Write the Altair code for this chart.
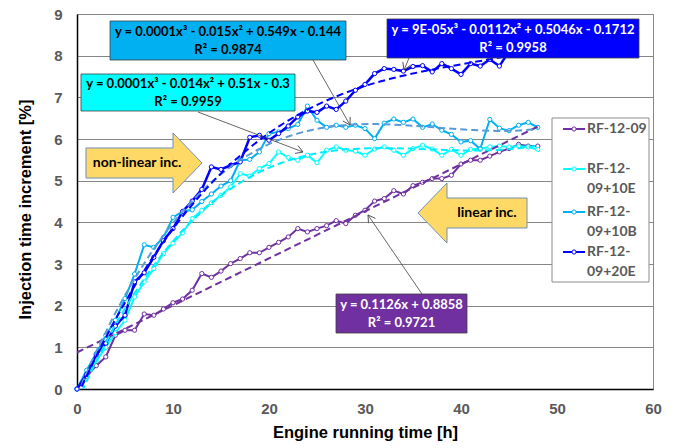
import altair as alt
import pandas as pd
import math

# ---------------- data ----------------
hours = list(range(49))
rf_12_09 = [0, 0.30, 0.56, 0.77, 1.29, 1.41, 1.41, 1.80, 1.77, 1.92, 2.07, 2.16, 2.37, 2.77, 2.68, 2.83,
            3.01, 3.13, 3.27, 3.27, 3.40, 3.52, 3.65, 3.85, 3.77, 3.85, 3.92, 4.04, 3.97, 4.17, 4.29, 4.51,
            4.57, 4.76, 4.68, 4.88, 4.96, 5.05, 5.05, 5.13, 5.40, 5.49, 5.49, 5.59, 5.69, 5.77, 5.87, 5.83, 5.83]
rf_10e = [0, 0.35, 0.68, 1.00, 1.35, 1.65, 2.21, 2.57, 2.89, 3.25, 3.50, 3.75, 4.09, 4.29, 4.47, 4.65,
          4.85, 5.17, 5.11, 5.29, 5.41, 5.69, 5.56, 5.49, 5.61, 5.43, 5.73, 5.81, 5.73, 5.71, 5.61, 5.76,
          5.81, 5.73, 5.61, 5.77, 5.85, 5.76, 5.61, 5.75, 5.61, 5.75, 5.77, 5.81, 5.83, 5.81, 5.83, 5.81, 5.75]
rf_10b = [0, 0.45, 0.85, 1.29, 1.65, 2.17, 2.76, 3.46, 3.40, 3.64, 4.12, 4.26, 4.30, 4.50, 4.68, 4.87,
          5.00, 5.49, 5.51, 5.69, 6.13, 6.17, 6.25, 6.35, 6.79, 6.45, 6.28, 6.33, 6.28, 6.33, 6.25, 6.01,
          6.38, 6.48, 6.40, 6.48, 6.28, 6.36, 6.21, 6.11, 5.93, 5.96, 5.76, 6.47, 6.26, 6.20, 6.33, 6.40, 6.28]
rf_20e = [0, 0.35, 0.82, 1.10, 1.51, 1.77, 2.57, 2.79, 3.16, 3.56, 3.85, 4.26, 4.51, 4.79, 5.33, 5.27,
          5.37, 5.45, 6.04, 6.09, 5.97, 6.13, 6.31, 6.53, 6.67, 6.64, 6.79, 6.71, 6.91, 7.17, 7.31, 7.57,
          7.69, 7.67, 7.63, 7.74, 7.76, 7.61, 7.81, 7.69, 7.55, 7.81, 7.75, 7.91, 7.75, 8.10, 8.05, 8.20, 8.15]

series_names = ["RF-12-09", "RF-12-09+10E", "RF-12-09+10B", "RF-12-09+20E"]
series_values = [rf_12_09, rf_10e, rf_10b, rf_20e]
legend_line1 = ["RF-12-09", "RF-12-", "RF-12-", "RF-12-"]
legend_line2 = ["", "09+10E", "09+10B", "09+20E"]

eq_line1 = ["y = 0.0001x³ - 0.015x² + 0.549x - 0.144",
            "y = 0.0001x³ - 0.014x² + 0.51x - 0.3",
            "y = 9E-05x³ - 0.0112x² + 0.5046x - 0.1712",
            "y = 0.1126x + 0.8858"]
eq_line2 = ["R² = 0.9874", "R² = 0.9959", "R² = 0.9958", "R² = 0.9721"]

# ---------------- styles ----------------
colors = ["#7030A0", "#00FFFF", "#00B0F0", "#0000FF"]
trend_colors = ["#7030A0", "#00EEFF", "#5B9BD5", "#0000FF"]
line_widths = [2, 2, 2, 2.5]
W, H = 576, 375
OX, OY = 77, 14
AXFONT = "Liberation Sans"
TFONT = "Lato"

rows = []
for name, vals in zip(series_names, series_values):
    for h, v in zip(hours, vals):
        rows.append({"series": name, "x": h, "y": v})
df = pd.DataFrame(rows)
one = pd.DataFrame({"k": [0]})

xenc = alt.X("x:Q", scale=alt.Scale(domain=[0, 60], nice=False),
             axis=alt.Axis(values=list(range(0, 61, 10)), grid=False, ticks=False, labelFlush=False,
                           title="Engine running time [h]", labelPadding=12, titlePadding=8))
yenc = alt.Y("y:Q", scale=alt.Scale(domain=[0, 9], nice=False),
             axis=alt.Axis(values=list(range(0, 10)), grid=True, ticks=False, labelFlush=False,
                           title="Injection time increment [%]", labelPadding=15, titlePadding=20,
                           titleY=195))

layers = []
# series lines + points
for name, c, lw in zip(series_names, colors, line_widths):
    base = alt.Chart(df).transform_filter(alt.datum.series == name)
    layers.append(base.mark_line(color=c, strokeWidth=lw).encode(x=xenc, y=yenc))
    layers.append(base.mark_point(filled=True, fill="white", stroke=c, strokeWidth=1, size=18,
                                  opacity=1).encode(x=xenc, y=yenc))
# trend lines (fitted by Vega)
for i, (name, tc) in enumerate(zip(series_names, trend_colors)):
    base = alt.Chart(df).transform_filter(alt.datum.series == name)
    if i == 0:
        reg = base.transform_regression("x", "y", method="linear", extent=[0, 48])
    else:
        reg = base.transform_regression("x", "y", method="poly", order=3, extent=[0, 48])
    layers.append(reg.mark_line(color=tc, strokeWidth=2, strokeDash=[7, 4], clip=True).encode(x=xenc, y=yenc))


def px(x):
    return x - OX


def py(y):
    return y - OY


# pointer lines from equation boxes
pointers = [((313, 60), (350, 125)), ((198, 112), (303, 152)), ((409, 58), (404, 70)), ((422, 294), (368, 215))]
for (x1, y1), (x2, y2) in pointers:
    layers.append(alt.Chart(one).mark_rule(color="#404040", strokeWidth=0.8).encode(
        x=alt.value(px(x1)), x2=alt.value(px(x2)), y=alt.value(py(y1)), y2=alt.value(py(y2))))
    ang = math.degrees(math.atan2(y2 - y1, x2 - x1)) % 360
    layers.append(alt.Chart(one).mark_point(shape="M-1,-0.6L0,0L-1,0.6", filled=False, stroke="#404040",
                                            strokeWidth=0.8, size=196, angle=ang, opacity=1).encode(
        x=alt.value(px(x2)), y=alt.value(py(y2))))

# equation boxes
boxes = [(110, 21, 346, 60, "#00B0F0", "black"),
         (81, 74, 295, 111, "#00FFFF", "black"),
         (387, 19, 639, 58, "#0000FF", "white"),
         (336, 294, 467, 333, "#7030A0", "white")]
for (x1, y1, x2, y2, fc, tcol), l1, l2 in zip(boxes, eq_line1, eq_line2):
    layers.append(alt.Chart(one).mark_rect(fill=fc, stroke="#404040", strokeWidth=0.8).encode(
        x=alt.value(px(x1)), x2=alt.value(px(x2)), y=alt.value(py(y1)), y2=alt.value(py(y2))))
    cx, cy = (x1 + x2) / 2, (y1 + y2) / 2
    for t, dy in ((l1, -9), (l2, 9)):
        layers.append(alt.Chart(one).mark_text(text=t, font=TFONT, fontWeight="bold", fontSize=13,
                                               color=tcol, baseline="middle", align="center").encode(
            x=alt.value(px(cx)), y=alt.value(py(cy + dy))))

# block arrows
right_arrow = "M-1,-0.259L0.5,-0.259L0.5,-0.517L1,0L0.5,0.517L0.5,0.259L-1,0.259Z"
left_arrow = "M1,-0.275L-0.468,-0.275L-0.468,-0.55L-1,0L-0.468,0.55L-0.468,0.275L1,0.275Z"
for shape, cx, cy, half, label, tx in ((right_arrow, 144, 163, 58, "non-linear inc.", 137),
                                       (left_arrow, 472.5, 213, 54.5, "linear inc.", 487)):
    layers.append(alt.Chart(one).mark_point(shape=shape, filled=True, fill="#FFD966", stroke="#6F8FB8",
                                            strokeWidth=1, size=(2 * half) ** 2, opacity=1).encode(
        x=alt.value(px(cx)), y=alt.value(py(cy))))
    layers.append(alt.Chart(one).mark_text(text=label, font=TFONT, fontWeight="bold", fontSize=14,
                                           color="black", align="center", baseline="middle").encode(
        x=alt.value(px(tx)), y=alt.value(py(cy))))

# legend
layers.append(alt.Chart(one).mark_rect(fill="white", stroke="#8C8C8C", strokeWidth=1).encode(
    x=alt.value(px(552)), x2=alt.value(px(649)), y=alt.value(py(118)), y2=alt.value(py(282))))
entry_y = [129, 169, 212, 252]
for c, ly, t1, t2 in zip(colors, entry_y, legend_line1, legend_line2):
    layers.append(alt.Chart(one).mark_rule(color=c, strokeWidth=2).encode(
        x=alt.value(px(563)), x2=alt.value(px(585)), y=alt.value(py(ly))))
    layers.append(alt.Chart(one).mark_point(filled=True, fill="white", stroke=c, strokeWidth=1, size=18,
                                            opacity=1).encode(x=alt.value(px(574)), y=alt.value(py(ly))))
    for t, dy in ((t1, 0), (t2, 20)):
        if t:
            layers.append(alt.Chart(one).mark_text(text=t, font=TFONT, fontWeight="bold", fontSize=14,
                                                   color="#595959", align="left", baseline="middle").encode(
                x=alt.value(px(587)), y=alt.value(py(ly + dy))))

chart = alt.layer(*layers).properties(
    width=W, height=H,
    autosize=alt.AutoSizeParams(type="none"),
    padding={"left": OX, "top": OY, "right": 675 - OX - W, "bottom": 448 - OY - H},
).configure_view(stroke="#868686", strokeWidth=1).configure_axis(
    labelFont=AXFONT, labelFontWeight="bold", labelFontSize=15, labelColor="#595959",
    titleFont=AXFONT, titleFontWeight="bold", titleFontSize=16.5, titleColor="black",
    domainColor="black", domainWidth=1.5, gridColor="#868686", gridWidth=1,
).configure_axisY(labelAlign="right")

chart.save("out.html", embed_options={"renderer": "svg", "actions": False})
